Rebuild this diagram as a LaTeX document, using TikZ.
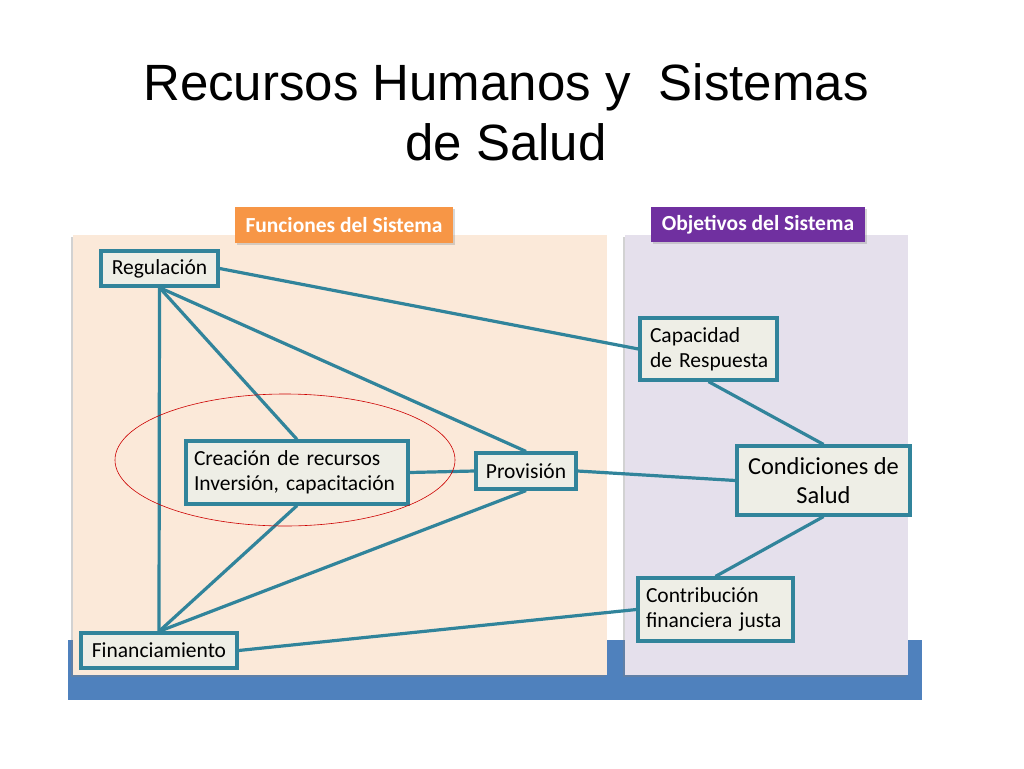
\documentclass[tikz,border=0pt]{standalone}
\usepackage{fontspec}
\setmainfont{Carlito}
\newfontfamily\titlefont{Liberation Sans}
\usetikzlibrary{shadows}
\definecolor{peach}{HTML}{FBE9D9}
\definecolor{lavender}{HTML}{E5E0EC}
\definecolor{barblue}{HTML}{4F81BD}
\definecolor{boxfill}{HTML}{EEEEE6}
\definecolor{teal}{HTML}{31849B}
\definecolor{orangelab}{HTML}{F79646}
\definecolor{purplelab}{HTML}{7030A0}
\tikzset{
  panel/.style={draw=none, drop shadow={opacity=0.35, shadow xshift=-2pt, shadow yshift=-2pt}},
  label/.style={text=white, font=\fontsize{21.5}{24}\selectfont\bfseries, inner sep=0pt, drop shadow={opacity=0.3, shadow xshift=2pt, shadow yshift=-2pt}},
  fbox/.style={draw=teal, line width=3.2pt, fill=boxfill, inner sep=0pt, font=\fontsize{21.5}{25}\selectfont},
  link/.style={draw=teal, line width=3.2pt}
}
\begin{document}
\begin{tikzpicture}[x=1pt,y=-1pt]
\useasboundingbox[fill=white] (0,0) rectangle (1024,768);
% title
\node[font=\titlefont\fontsize{51}{60}\selectfont, align=center, inner sep=0pt] (title) at (506,112) {Recursos Humanos y\ \ Sistemas\\de Salud};
% background bar and panels
\fill[barblue] (68,640) rectangle (922,700);
\path[panel, fill=peach] (73,235) rectangle (607,675);
\path[panel, fill=lavender] (625,235) rectangle (908,675);
% labels
\node[label, fill=orangelab, minimum width=218pt, minimum height=36pt] (funlab) at (344,225) {Funciones del Sistema};
\node[label, fill=purplelab, minimum width=214pt, minimum height=35pt] (objlab) at (758,224.5) {Objetivos del Sistema};
% boxes
\node[fbox, minimum width=117pt, minimum height=35pt] (reg) at (159.5,268.5) {Regulación};
\node[fbox, minimum width=137pt, minimum height=62pt, align=left, text width=125pt] (cap) at (708.5,349) {\hspace*{4pt}Capacidad\\\hspace*{4pt}de Respuesta};
\node[fbox, minimum width=222pt, minimum height=63pt, align=left, text width=206pt] (cre) at (297,472.5) {Creación de recursos\\Inversión, capacitación};
\node[fbox, minimum width=100pt, minimum height=36pt] (prov) at (526,471) {Provisión};
\node[fbox, minimum width=173pt, minimum height=69pt, align=center, font=\fontsize{24.4}{29}\selectfont] (cond) at (823.5,480.5) {Condiciones de\\Salud};
\node[fbox, minimum width=155pt, minimum height=63pt, align=left, text width=145pt] (contr) at (715.5,609.5) {\hspace*{3pt}Contribución\\\hspace*{3pt}financiera justa};
\node[fbox, minimum width=156pt, minimum height=35pt] (fin) at (159,650.5) {Financiamiento};
% connectors
\draw[link] (reg.east) -- (cap.west);
\draw[link] (reg.south) -- (fin.north);
\draw[link] (reg.south) -- (cre.north);
\draw[link] (reg.south) -- (prov.north);
\draw[link] (cre.east) -- (prov.west);
\draw[link] (prov.east) -- (cond.west);
\draw[link] (cap.south) -- (cond.north);
\draw[link] (cond.south) -- (contr.north);
\draw[link] (cre.south) -- (fin.north);
\draw[link] (prov.south) -- (fin.north);
\draw[link] (fin.east) -- (contr.west);
% red ellipse
\draw[red!80!black, line width=0.6pt] (285,460) ellipse [x radius=170, y radius=66];
\end{tikzpicture}
\end{document}
